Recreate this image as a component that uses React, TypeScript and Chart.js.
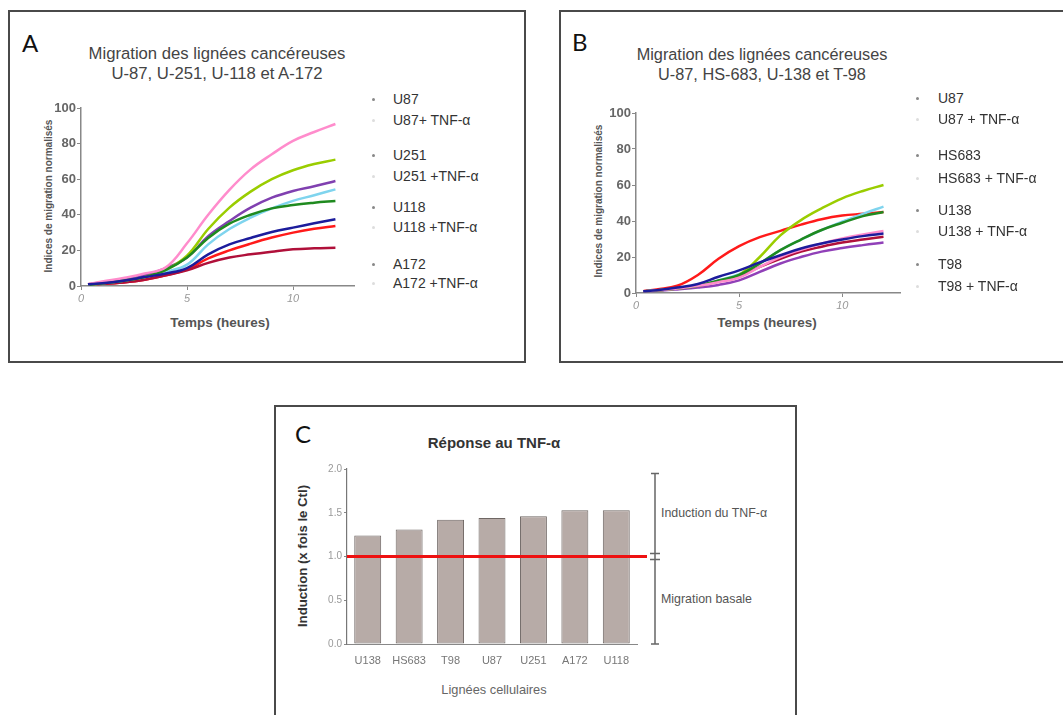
import React, { useEffect, useRef } from "react";
import { Chart, registerables } from "chart.js";

Chart.register(...registerables);

// ---------- DATA ----------
const hoursA = [0.33, 1, 2, 3, 4, 5, 6, 7, 8, 9, 10, 11, 12];
const u87A = [1, 1.5, 3, 5, 7, 10, 17.8, 23.4, 27, 30.3, 32.8, 35.2, 37.5];
const u87TnfA = [1, 2.5, 4.5, 7, 10.5, 24, 40, 54, 65.5, 74, 81.5, 86.5, 91];
const u251A = [0.8, 1.5, 3, 5, 9, 16, 27, 35, 40, 43.6, 45.5, 46.8, 47.8];
const u251TnfA = [0.8, 1.5, 3, 5, 9, 17, 32, 44, 53, 60, 65, 68.5, 71];
const u118A = [0.8, 1.5, 3, 5, 8, 12, 23.4, 32, 38.4, 43.6, 47.8, 51, 54.3];
const u118TnfA = [1, 2, 3.5, 6, 10, 16, 28, 36.5, 44, 49.6, 53.4, 56, 59];
const a172A = [1, 1.2, 2, 3.5, 6, 8.8, 13, 16, 17.8, 19.3, 20.6, 21.2, 21.5];
const a172TnfA = [1, 1.2, 2, 3.5, 6, 9.4, 15.5, 20, 23.8, 27.2, 30, 32.2, 33.7];

const hoursB = [0.35, 1, 2, 3, 4, 5, 6, 7, 8, 9, 10, 11, 12];
const u87B = [1, 1.5, 3, 5, 9, 12.6, 17, 21, 24.7, 27.5, 29.7, 31.6, 33];
const u87TnfB = [1, 1.5, 2.5, 4, 6, 8.5, 14.5, 20, 24, 27.5, 30.3, 32.5, 34.4];
const hs683B = [1, 1.5, 2.5, 4, 7, 10, 16.4, 23.8, 29.7, 35, 39, 42.7, 45];
const hs683TnfB = [1, 1.5, 2.5, 4, 6.5, 10, 20, 32, 40.5, 47, 52.6, 56.7, 60];
const u138B = [1, 1.2, 2, 3, 4.5, 7, 11.7, 16.4, 20, 23, 25, 26.6, 28];
const u138TnfB = [1, 1.5, 2.5, 4, 7, 10.5, 16.4, 23.8, 29.7, 35, 39.6, 44, 48];
const t98B = [1, 1.5, 2.5, 4, 6.5, 9.5, 14.5, 19, 23, 25.7, 28, 29.7, 31.2];
const t98TnfB = [1, 2, 4, 10, 19, 26, 31, 34.5, 38, 41, 43, 44, 45];

const legendA = ["U87", "U87+ TNF-α", "U251", "U251 +TNF-α", "U118", "U118 +TNF-α", "A172", "A172 +TNF-α"];
const legendB = ["U87", "U87 + TNF-α", "HS683", "HS683 + TNF-α", "U138", "U138 + TNF-α", "T98", "T98 + TNF-α"];

const cellLines = ["U138", "HS683", "T98", "U87", "U251", "A172", "U118"];
const induction = [1.24, 1.31, 1.42, 1.44, 1.46, 1.53, 1.53];
const baseline = 1.0;
const bracketTop = 1.95;

const xTicksLine = [0, 5, 10];
const yTicksLine = [0, 20, 40, 60, 80, 100];
const yTicksBar = [0, 0.5, 1.0, 1.5, 2.0];

// ---------- STYLE ----------
const FONT = "'Liberation Sans', Arial, sans-serif";
const colorsA = ["#1c1c9c", "#ff8ccc", "#1f8a1f", "#9acd00", "#7fd4ee", "#8040b0", "#b0103a", "#ff1a1a"];
const colorsB = ["#1c1c9c", "#ff8ccc", "#1f8a1f", "#9acd00", "#9040b8", "#7fd4ee", "#b0103a", "#ff1a1a"];

function lineConfig(hours: number[], series: number[][], colors: string[], labels: string[], yWidth: number, padRight: number, xmax: number): any {
  return {
    type: "line",
    data: {
      datasets: series.map((vals, i) => ({
        label: labels[i],
        data: hours.map((h, j) => ({ x: h, y: vals[j] })),
        borderColor: colors[i],
        borderWidth: 2.5,
        pointRadius: 0,
        fill: false,
        tension: 0.4,
      })),
    },
    options: {
      animation: false,
      responsive: false,
      maintainAspectRatio: false,
      layout: { padding: { top: 10, right: padRight, left: 0, bottom: 0 } },
      plugins: { legend: { display: false }, tooltip: { enabled: false } },
      scales: {
        x: {
          type: "linear",
          min: 0,
          max: xmax,
          afterBuildTicks: (s: any) => { s.ticks = xTicksLine.map((v) => ({ value: v })); },
          ticks: { color: "#999", font: { family: FONT, size: 11, style: "italic" }, padding: 2 },
          grid: { display: true, drawOnChartArea: false, drawTicks: true, tickLength: 4, color: "#888" },
          border: { display: true, color: "#888", width: 1.5 },
          afterFit: (s: any) => { s.height = 20; },
        },
        y: {
          min: 0,
          max: 100,
          afterBuildTicks: (s: any) => { s.ticks = yTicksLine.map((v) => ({ value: v })); },
          ticks: { color: "#666", font: { family: FONT, size: 13, weight: "bold" }, padding: 1 },
          grid: { display: true, drawOnChartArea: false, drawTicks: true, tickLength: 4, color: "#888" },
          border: { display: true, color: "#888", width: 1.5 },
          afterFit: (s: any) => { s.width = yWidth; },
        },
      },
    },
  };
}

const annotationPlugin = {
  id: "annot",
  afterDatasetsDraw(chart: any) {
    const { ctx, chartArea, scales } = chart;
    const y = scales.y;
    const yb = y.getPixelForValue(baseline);
    ctx.save();
    ctx.strokeStyle = "#ee1111";
    ctx.lineWidth = 3;
    ctx.beginPath();
    ctx.moveTo(chartArea.left, yb);
    ctx.lineTo(chartArea.right + 10, yb);
    ctx.stroke();
    // bracket
    const bx = chartArea.right + 18;
    const yt = y.getPixelForValue(bracketTop);
    const y0 = y.getPixelForValue(0);
    ctx.strokeStyle = "#666";
    ctx.lineWidth = 1.5;
    ctx.beginPath();
    ctx.moveTo(bx, yt);
    ctx.lineTo(bx, y0);
    ctx.moveTo(bx - 4, yt);
    ctx.lineTo(bx + 4, yt);
    ctx.moveTo(bx - 4, y0);
    ctx.lineTo(bx + 4, y0);
    ctx.moveTo(bx - 5, yb - 3);
    ctx.lineTo(bx + 5, yb - 3);
    ctx.moveTo(bx - 5, yb + 3);
    ctx.lineTo(bx + 5, yb + 3);
    ctx.stroke();
    ctx.restore();
  },
};

function barConfig(): any {
  return {
    type: "bar",
    data: {
      labels: cellLines,
      datasets: [
        {
          data: induction,
          backgroundColor: "#b7aba7",
          borderColor: "#6f6764",
          borderWidth: 1,
          borderSkipped: false,
          barPercentage: 0.65,
          categoryPercentage: 1,
        },
      ],
    },
    options: {
      animation: false,
      responsive: false,
      maintainAspectRatio: false,
      layout: { padding: { top: 10, right: 63, left: 0, bottom: 0 } },
      plugins: { legend: { display: false }, tooltip: { enabled: false } },
      scales: {
        x: {
          ticks: { color: "#777", font: { family: FONT, size: 11 }, padding: 10 },
          grid: { display: true, drawOnChartArea: false, drawTicks: false },
          border: { display: true, color: "#888", width: 1 },
          afterFit: (s: any) => { s.height = 35; },
        },
        y: {
          min: 0,
          max: 2,
          afterBuildTicks: (s: any) => { s.ticks = yTicksBar.map((v) => ({ value: v })); },
          ticks: { color: "#999", font: { family: FONT, size: 10 }, padding: 2, callback: (v: any) => Number(v).toFixed(1) },
          grid: { display: true, drawOnChartArea: false, drawTicks: true, tickLength: 3, color: "#888" },
          border: { display: true, color: "#777", width: 1.2 },
          afterFit: (s: any) => { s.width = 47; },
        },
      },
    },
    plugins: [annotationPlugin],
  };
}

function ChartCanvas({ left, top, width, height, make }: { left: number; top: number; width: number; height: number; make: () => any }) {
  const ref = useRef<HTMLCanvasElement>(null);
  useEffect(() => {
    if (!ref.current) return;
    const chart = new Chart(ref.current, make());
    return () => chart.destroy();
  }, []);
  return <canvas ref={ref} width={width} height={height} style={{ position: "absolute", left, top, width, height }} />;
}

function T({ x, y, text, size = 12, weight = 400, color = "#444", align = "center", rotate = false, family = FONT }: any) {
  const tx = align === "center" ? "-50%" : "0";
  return (
    <div
      style={{
        position: "absolute",
        left: x,
        top: y,
        transform: `translate(${rotate ? "-50%" : tx}, -50%)${rotate ? " rotate(-90deg)" : ""}`,
        whiteSpace: "nowrap",
        fontFamily: family,
        fontSize: size,
        fontWeight: weight,
        color,
        lineHeight: 1,
      }}
    >
      {text}
    </div>
  );
}

function Legend({ items, x, tx, ys }: { items: string[]; x: number; tx: number; ys: number[] }) {
  return (
    <>
      {items.map((it, i) => (
        <React.Fragment key={i}>
          <div style={{ position: "absolute", left: x - 1.5, top: ys[i] - 1.5, width: 3, height: 3, borderRadius: 2, background: i % 2 === 0 ? "#888" : "#ddd" }} />
          <T x={tx} y={ys[i]} text={it} size={14} color="#333" align="left" />
        </React.Fragment>
      ))}
    </>
  );
}

export default function App() {
  const box = (l: number, t: number, w: number, h: number) => (
    <div style={{ position: "absolute", left: l, top: t, width: w, height: h, border: "2px solid #4a4a4a", boxSizing: "border-box" }} />
  );
  return (
    <div style={{ position: "absolute", left: 0, top: 0, width: 1063, height: 715, background: "#fff", overflow: "hidden" }}>
      {box(8, 10, 518, 353)}
      {box(559, 10, 520, 353)}
      {box(274, 405, 523, 330)}

      {/* Panel A */}
      <T x={22} y={43} text="A" size={24} color="#111" align="left" family="Lato, 'Open Sans', sans-serif" />
      <T x={217} y={54} text="Migration des lignées cancéreuses" size={16.7} color="#444" />
      <T x={217} y={74} text="U-87, U-251, U-118 et A-172" size={16.7} color="#444" />
      <T x={49} y={196} text="Indices de migration normalisés" size={10} weight={700} color="#555" rotate />
      <T x={220} y={323} text="Temps (heures)" size={13.5} weight={700} color="#555" />
      <ChartCanvas
        left={30}
        top={98}
        width={340}
        height={208}
        make={() => lineConfig(hoursA, [u87A, u87TnfA, u251A, u251TnfA, u118A, u118TnfA, a172A, a172TnfA], colorsA, legendA, 51, 15.5, 12.9)}
      />
      <Legend items={legendA} x={373} tx={393} ys={[99, 120, 155, 176, 207, 227, 264, 283]} />

      {/* Panel B */}
      <T x={572} y={42} text="B" size={24} color="#111" align="left" family="Lato, 'Open Sans', sans-serif" />
      <T x={762} y={54} text="Migration des lignées cancéreuses" size={16.3} color="#444" />
      <T x={762} y={74} text="U-87, HS-683, U-138 et T-98" size={16.3} color="#444" />
      <T x={599} y={201} text="Indices de migration normalisés" size={10} weight={700} color="#555" rotate />
      <T x={767} y={323} text="Temps (heures)" size={13.5} weight={700} color="#555" />
      <ChartCanvas
        left={580}
        top={103}
        width={340}
        height={210}
        make={() => lineConfig(hoursB, [u87B, u87TnfB, hs683B, hs683TnfB, u138B, u138TnfB, t98B, t98TnfB], colorsB, legendB, 56, 20, 12.8)}
      />
      <Legend items={legendB} x={917} tx={938} ys={[98, 119, 155, 178, 210, 231, 264, 286]} />

      {/* Panel C */}
      <T x={295} y={434} text="C" size={24} color="#111" align="left" family="Lato, 'Open Sans', sans-serif" />
      <T x={494} y={442} text="Réponse au TNF-α" size={15} weight={700} color="#333" />
      <T x={303} y={556} text="Induction (x fois le Ctl)" size={13.2} weight={700} color="#333" rotate />
      <T x={494} y={690} text="Lignées cellulaires" size={12.8} color="#666" />
      <T x={661} y={513} text="Induction du TNF-α" size={12.4} color="#555" align="left" />
      <T x={661} y={599} text="Migration basale" size={12.4} color="#555" align="left" />
      <ChartCanvas left={300} top={459} width={400} height={220} make={barConfig} />
    </div>
  );
}
